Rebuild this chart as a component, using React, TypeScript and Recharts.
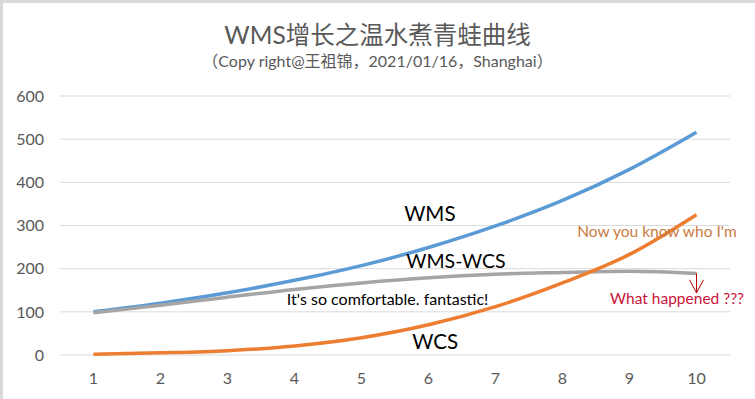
import { LineChart, Line, XAxis, YAxis, CartesianGrid, ReferenceDot, ReferenceLine } from "recharts";

const categories = [1, 2, 3, 4, 5, 6, 7, 8, 9, 10];
const wms = [100, 120, 144, 173, 207, 249, 299, 358, 430, 516];
const wcs = [2, 5, 10, 21, 40, 70, 112, 167, 233, 325];
const gap = [98, 115, 134, 152, 167, 179, 187, 191, 194, 189];
const yTicks = [0, 100, 200, 300, 400, 500, 600];

// notes placed in data space
const notes = [
  { text: "WMS", x: 6.02, y: 327, size: 20.5, color: "#000000" },
  { text: "WMS-WCS", x: 6.41, y: 218, size: 19.5, color: "#000000" },
  { text: "It's so comfortable. fantastic!", x: 5.39, y: 130, size: 16, color: "#000000" },
  { text: "WCS", x: 6.1, y: 30, size: 20.5, color: "#000000" },
  { text: "Now you know who I'm", x: 9.41, y: 285, size: 15.5, color: "#C97B3F" },
  { text: "What happened ???", x: 9.71, y: 132, size: 15.5, color: "#C8143C" },
];

const data = categories.map((c, i) => ({ x: c, wms: wms[i], wcs: wcs[i], gap: gap[i] }));

const FONT = "Lato, 'Noto Sans CJK SC', sans-serif";

export default function App() {
  return (
    <div
      style={{
        position: "absolute",
        left: 0,
        top: 0,
        width: 755,
        height: 399,
        background: "#fff",
        fontFamily: FONT,
        borderTop: "3px solid #d9d9d9",
        borderLeft: "3px solid #d9d9d9",
        boxSizing: "border-box",
        overflow: "hidden",
      }}
    >
      <div style={{ position: "absolute", top: 17, left: -3, width: 755, textAlign: "center", color: "#595959", fontSize: 24.5, lineHeight: "30px" }}>
        WMS增长之温水煮青蛙曲线
      </div>
      <div style={{ position: "absolute", top: 48, left: -3, width: 755, textAlign: "center", color: "#595959", fontSize: 16, lineHeight: "20px" }}>
        （Copy right@王祖锦，2021/01/16，Shanghai）
      </div>
      <div style={{ position: "absolute", left: -3, top: -3 }}>
        <LineChart width={755} height={399} data={data} margin={{ top: 96, right: 25, left: 10, bottom: 14 }}>
          <CartesianGrid vertical={false} stroke="#d9d9d9" />
          <XAxis
            dataKey="x"
            type="number"
            domain={[0.5, 10.5]}
            ticks={categories}
            axisLine={false}
            tickLine={false}
            tickMargin={12}
            height={30}
            tick={{ fill: "#595959", fontSize: 16, fontFamily: FONT }}
          />
          <YAxis
            type="number"
            domain={[0, 600]}
            ticks={yTicks}
            axisLine={false}
            tickLine={false}
            tickMargin={10}
            width={50}
            tick={{ fill: "#595959", fontSize: 16, fontFamily: FONT }}
          />
          <Line type="monotone" dataKey="wms" stroke="#5B9BD5" strokeWidth={3.5} dot={false} isAnimationActive={false} />
          <Line type="monotone" dataKey="gap" stroke="#A5A5A5" strokeWidth={3.5} dot={false} isAnimationActive={false} />
          <Line type="monotone" dataKey="wcs" stroke="#ED7D31" strokeWidth={3.5} dot={false} isAnimationActive={false} />
          {notes.map((n) => (
            <ReferenceDot
              key={n.text}
              x={n.x}
              y={n.y}
              r={0}
              fill="none"
              stroke="none"
              ifOverflow="visible"
              label={{ value: n.text, position: "center", fill: n.color, fontSize: n.size, fontFamily: FONT }}
            />
          ))}
          <ReferenceLine
            segment={[
              { x: 10, y: 189 },
              { x: 10, y: 144 },
            ]}
            stroke="#C00000"
            strokeWidth={1}
          />
          <ReferenceDot
            x={10}
            y={144}
            r={0}
            ifOverflow="visible"
            shape={(p: any) => (
              <path
                d={`M${p.cx - 7},${p.cy - 13} L${p.cx},${p.cy} L${p.cx + 7},${p.cy - 13}`}
                stroke="#C00000"
                strokeWidth={1}
                fill="none"
              />
            )}
          />
        </LineChart>
      </div>
    </div>
  );
}
